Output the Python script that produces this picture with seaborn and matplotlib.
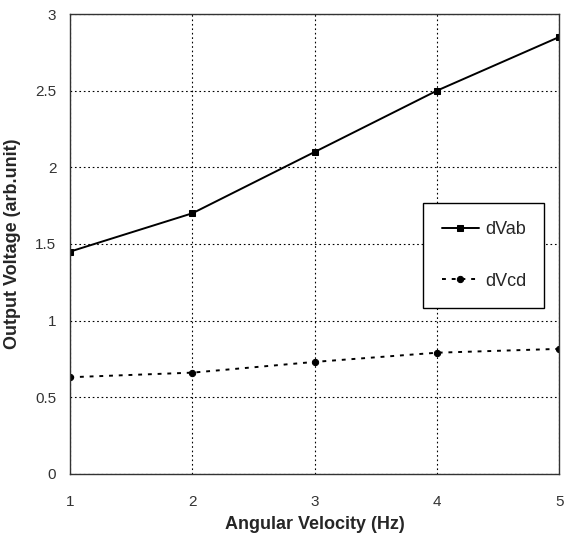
import matplotlib
matplotlib.use('Agg')
import matplotlib.pyplot as plt
import seaborn as sns
import pandas as pd

# data
velocity = [1, 2, 3, 4, 5]
dvab = [1.45, 1.70, 2.10, 2.50, 2.85]
dvcd = [0.63, 0.66, 0.73, 0.79, 0.815]

sns.set_theme(style='white')
plt.rcParams['font.family'] = ['Liberation Sans', 'DejaVu Sans']

df = pd.DataFrame({'Angular Velocity (Hz)': velocity * 2,
                   'value': dvab + dvcd,
                   'series': ['dVab'] * 5 + ['dVcd'] * 5})

fig = plt.figure(figsize=(5.66, 5.39), dpi=100)
ax = fig.add_axes([0.124, 0.121, 0.864, 0.853])

sns.lineplot(data=df, x='Angular Velocity (Hz)', y='value', hue='series',
             style='series', palette=['black', 'black'],
             dashes={'dVab': '', 'dVcd': (2, 3)}, markers={'dVab': 's', 'dVcd': 'o'},
             markersize=4.5, linewidth=1.4, markeredgecolor='black', ax=ax)

ax.set_xlim(1, 5)
ax.set_ylim(0, 3)
ax.set_xticks(velocity)
ax.set_yticks([0, 0.5, 1, 1.5, 2, 2.5, 3])
ax.set_yticklabels(['0', '0.5', '1', '1.5', '2', '2.5', '3'])
ax.grid(True, color='black', linestyle=(0, (1.5, 2.5)), linewidth=0.8)
for s in ax.spines.values():
    s.set_color('#333333')
    s.set_linewidth(1.0)
ax.tick_params(axis='both', length=0, labelsize=11, colors='#333333')
ax.tick_params(axis='x', pad=15)
ax.tick_params(axis='y', pad=10)
ax.set_xlabel('Angular Velocity (Hz)', fontsize=13, fontweight='bold', labelpad=5)
ax.set_ylabel('Output Voltage (arb.unit)', fontsize=13, fontweight='bold', labelpad=10)

leg = ax.legend(loc='upper left', bbox_to_anchor=(0.704, 0.608), fontsize=13,
                frameon=True, fancybox=False, edgecolor='black', framealpha=1,
                labelspacing=1.9, borderpad=1.0, handlelength=2.1, handletextpad=0.3)
leg.get_frame().set_linewidth(1.0)

fig.savefig('out.png', dpi=100)
